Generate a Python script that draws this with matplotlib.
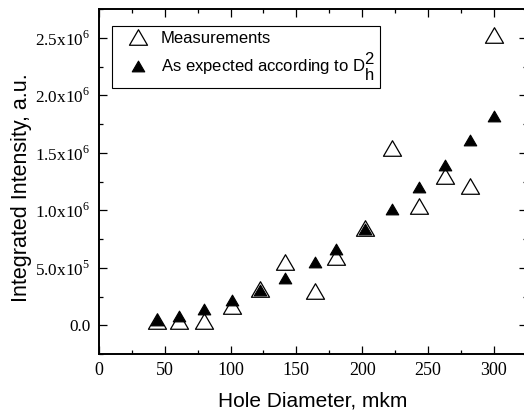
import numpy as np
import matplotlib
matplotlib.use("Agg")
import matplotlib.pyplot as plt
from matplotlib.path import Path
from matplotlib.ticker import MultipleLocator, FixedLocator

plt.rcParams['mathtext.fontset'] = 'custom'
plt.rcParams['mathtext.rm'] = 'Liberation Serif'
plt.rcParams['mathtext.sf'] = 'Liberation Sans'

# data
diameter_meas = [44, 61, 80, 101, 122, 141, 164, 180, 202, 223, 243, 263, 282, 300]
intensity_meas = [0.035e6, 0.035e6, 0.035e6, 0.172e6, 0.32e6, 0.549e6, 0.300e6,
                  0.593e6, 0.845e6, 1.542e6, 1.037e6, 1.298e6, 1.215e6, 2.526e6]

diameter_exp = [44, 61, 80, 101, 122, 141, 164, 180, 202, 223, 243, 263, 282, 300]
intensity_exp = [0.05e6, 0.085e6, 0.14e6, 0.218e6, 0.31e6, 0.414e6, 0.550e6,
                 0.663e6, 0.835e6, 1.010e6, 1.200e6, 1.396e6, 1.611e6, 1.825e6]

ytick_values = [0, 0.5e6, 1.0e6, 1.5e6, 2.0e6, 2.5e6]
ytick_labels = ["0.0", r"5.0x10$^{5}$", r"1.0x10$^{6}$", r"1.5x10$^{6}$",
                r"2.0x10$^{6}$", r"2.5x10$^{6}$"]

tri = Path([(-1, -0.86), (1, -0.86), (0, 0.86), (-1, -0.86)], closed=True)

fig = plt.figure(figsize=(5.24, 4.13), dpi=100)
W, H = 524, 413
ax = fig.add_axes([99 / W, 1 - 354 / H, (526.6 - 99) / W, (354 - 9.3) / H])

ax.plot(diameter_meas, intensity_meas, linestyle='none', marker=tri, markersize=13,
        markerfacecolor='white', markeredgecolor='black', markeredgewidth=0.9,
        label='Measurements', zorder=3)
ax.plot(diameter_exp, intensity_exp, linestyle='none', marker=tri, markersize=9,
        markerfacecolor='black', markeredgecolor='black', markeredgewidth=0.8,
        label=r'As expected according to $\mathsf{D}\genfrac{}{}{0}{0}{\mathsf{2}}{\mathsf{h}}$',
        zorder=4)

ax.set_xlim(0, 325)
ax.set_ylim(-0.25e6, 2.75e6)

ax.xaxis.set_major_locator(MultipleLocator(50))
ax.xaxis.set_minor_locator(MultipleLocator(25))
ax.yaxis.set_major_locator(FixedLocator(ytick_values))
ax.yaxis.set_minor_locator(MultipleLocator(0.25e6))
ax.set_yticks(ytick_values, ytick_labels)

ax.tick_params(which='both', direction='in', top=True, right=True, width=0.9)
ax.tick_params(which='major', length=6, pad=6)
ax.tick_params(which='minor', length=3)
for lab in ax.get_xticklabels():
    lab.set_fontfamily('Liberation Serif')
    lab.set_fontsize(13)
for lab in ax.get_yticklabels():
    lab.set_fontfamily('Liberation Serif')
    lab.set_fontsize(12.4)

for s in ax.spines.values():
    s.set_linewidth(1.4)

ax.set_xlabel("Hole Diameter, mkm", family='Liberation Sans', fontsize=15, labelpad=9)
ax.set_ylabel("Integrated Intensity, a.u.", family='Liberation Sans', fontsize=15.5)
ax.yaxis.set_label_coords(-0.157, 0.484)

leg = ax.legend(loc='upper left', bbox_to_anchor=(0.030, 0.952), borderaxespad=0,
                prop={'family': 'Liberation Sans', 'size': 12}, fancybox=False,
                edgecolor='black', framealpha=1, handlelength=2.5, handletextpad=0.15,
                borderpad=0.3, labelspacing=0.3)
leg.get_frame().set_linewidth(0.8)

fig.savefig("out.png", dpi=100)
